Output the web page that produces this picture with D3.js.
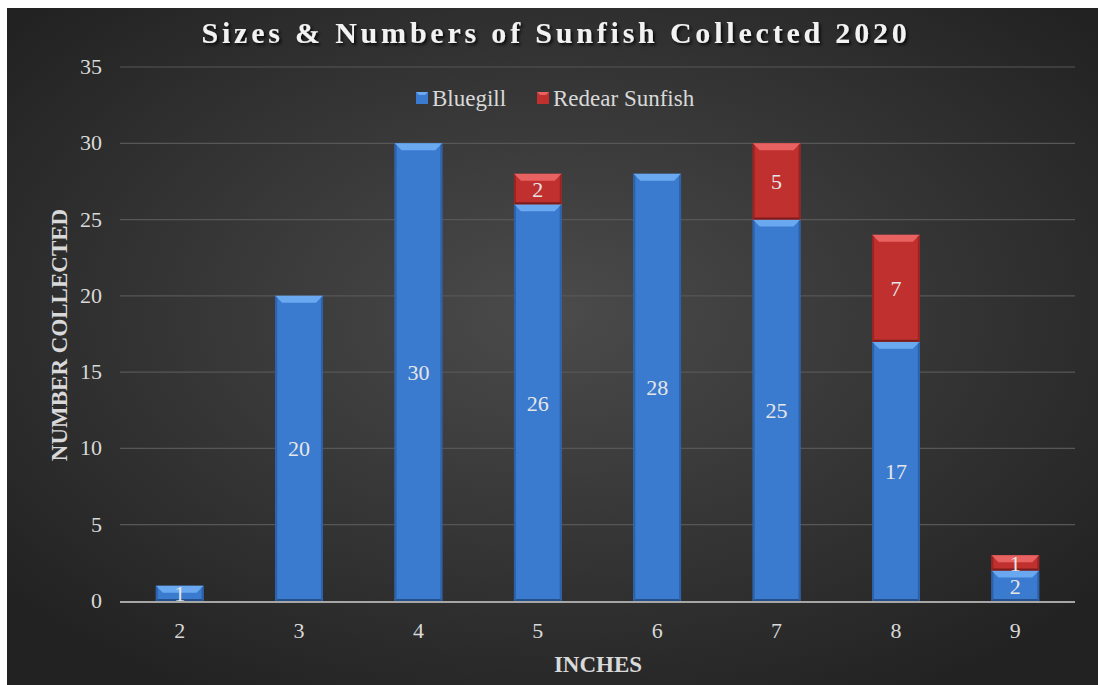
<!DOCTYPE html>
<html>
<head>
<meta charset="utf-8">
<script src="https://cdn.jsdelivr.net/npm/d3@7"></script>
<style>
  body { margin: 0; background: #fff; }
</style>
</head>
<body>
<svg id="chart" width="1098" height="685"></svg>
<script>
const sizes = ["2", "3", "4", "5", "6", "7", "8", "9"];
const bluegill = [1, 20, 30, 26, 28, 25, 17, 2];
const redear = [0, 0, 0, 2, 0, 5, 7, 1];
const seriesNames = ["Bluegill", "Redear Sunfish"];
const yTicks = [0, 5, 10, 15, 20, 25, 30, 35];

const width = 1098,
  height = 685;
const plot = { left: 120, right: 1075, top: 67, bottom: 601 };
const font = "'Liberation Serif', 'Times New Roman', 'DejaVu Serif', serif";

const svg = d3.select("#chart").attr("font-family", font);
const defs = svg.append("defs");

const bg = defs
  .append("radialGradient")
  .attr("id", "bg")
  .attr("cx", "50%")
  .attr("cy", "45%")
  .attr("r", "65%");
bg.append("stop").attr("offset", "0%").attr("stop-color", "#4b4b4b");
bg.append("stop").attr("offset", "100%").attr("stop-color", "#222");

const shadow = defs.append("filter").attr("id", "shadow");
shadow
  .append("feDropShadow")
  .attr("dx", 2)
  .attr("dy", 2)
  .attr("stdDeviation", 1.5)
  .attr("flood-color", "#000")
  .attr("flood-opacity", 0.8);

svg
  .append("rect")
  .attr("x", 7)
  .attr("y", 8)
  .attr("width", width - 7)
  .attr("height", height - 8)
  .attr("fill", "url(#bg)");

const x = d3
  .scaleBand()
  .domain(sizes)
  .range([plot.left, plot.right])
  .paddingInner(0.6)
  .paddingOuter(0.3);

const y = d3.scaleLinear().domain([0, 35]).range([plot.bottom, plot.top]);

// gridlines
svg
  .append("g")
  .selectAll("line")
  .data(yTicks.filter((d) => d > 0))
  .join("line")
  .attr("x1", plot.left)
  .attr("x2", plot.right)
  .attr("y1", (d) => y(d))
  .attr("y2", (d) => y(d))
  .attr("stroke", "#575757")
  .attr("stroke-width", 1.2);

// y tick labels
svg
  .append("g")
  .selectAll("text")
  .data(yTicks)
  .join("text")
  .attr("x", 102)
  .attr("y", (d) => y(d) + 7)
  .attr("text-anchor", "end")
  .attr("fill", "#d9d9d9")
  .style("font-size", "22px")
  .text((d) => d);

const colors = {
  Bluegill: { main: "#3a7bd0", top: "#6aa8f0", side: "#2c62aa", bottom: "#24508c" },
  "Redear Sunfish": { main: "#c0302f", top: "#e86262", side: "#9a2424", bottom: "#7d1c1c" },
};

const table = sizes.map((s, i) => ({
  size: s,
  Bluegill: bluegill[i],
  "Redear Sunfish": redear[i],
}));
const stacked = d3.stack().keys(seriesNames)(table);

const bev = 7;
stacked.forEach((layer) => {
  const c = colors[layer.key];
  const g = svg.append("g");
  layer.forEach((d) => {
    const v = d[1] - d[0];
    if (v <= 0) return;
    const x0 = x(d.data.size),
      x1 = x0 + x.bandwidth();
    const y0 = y(d[0]),
      y1 = y(d[1]);
    const b = Math.min(bev, (y0 - y1) / 2);
    const seg = g.append("g");
    seg
      .append("rect")
      .attr("x", x0)
      .attr("y", y1)
      .attr("width", x1 - x0)
      .attr("height", y0 - y1)
      .attr("fill", c.main);
    seg
      .append("polygon")
      .attr("points", [[x0, y1], [x1, y1], [x1 - b, y1 + b], [x0 + b, y1 + b]].join(" "))
      .attr("fill", c.top);
    seg
      .append("polygon")
      .attr("points", [[x0, y1], [x0 + 2, y1 + 2], [x0 + 2, y0 - 2], [x0, y0]].join(" "))
      .attr("fill", c.side);
    seg
      .append("polygon")
      .attr("points", [[x1, y1], [x1 - 2, y1 + 2], [x1 - 2, y0 - 2], [x1, y0]].join(" "))
      .attr("fill", c.side);
    seg
      .append("polygon")
      .attr("points", [[x0, y0], [x1, y0], [x1 - 2, y0 - 2], [x0 + 2, y0 - 2]].join(" "))
      .attr("fill", c.bottom);
    seg
      .append("text")
      .attr("x", (x0 + x1) / 2)
      .attr("y", (y0 + y1) / 2 + 8)
      .attr("text-anchor", "middle")
      .attr("fill", "#e6e6e6")
      .style("font-size", "22px")
      .text(v);
  });
});

// axis line
svg
  .append("line")
  .attr("x1", plot.left)
  .attr("x2", plot.right)
  .attr("y1", y(0) + 1)
  .attr("y2", y(0) + 1)
  .attr("stroke", "#a6a6a6")
  .attr("stroke-width", 2);

// x tick labels
svg
  .append("g")
  .selectAll("text")
  .data(sizes)
  .join("text")
  .attr("x", (d) => x(d) + x.bandwidth() / 2)
  .attr("y", 638)
  .attr("text-anchor", "middle")
  .attr("fill", "#d9d9d9")
  .style("font-size", "22px")
  .text((d) => d);

// title
svg
  .append("text")
  .attr("x", 556)
  .attr("y", 43)
  .attr("text-anchor", "middle")
  .attr("fill", "#f2f2f2")
  .attr("filter", "url(#shadow)")
  .style("font-size", "30px")
  .style("font-weight", "bold")
  .style("letter-spacing", "3.8px")
  .text("Sizes & Numbers of Sunfish Collected 2020");

// axis titles
svg
  .append("text")
  .attr("x", 598)
  .attr("y", 672)
  .attr("text-anchor", "middle")
  .attr("fill", "#d9d9d9")
  .style("font-size", "23px")
  .style("font-weight", "bold")
  .text("INCHES");

svg
  .append("text")
  .attr("transform", "translate(67,335) rotate(-90)")
  .attr("text-anchor", "middle")
  .attr("fill", "#d9d9d9")
  .style("font-size", "23px")
  .style("font-weight", "bold")
  .text("NUMBER COLLECTED");

// legend
const legendX = [416, 537];
const legend = svg
  .append("g")
  .selectAll("g")
  .data(seriesNames)
  .join("g")
  .attr("transform", (d, i) => `translate(${legendX[i]},92)`);
legend
  .append("rect")
  .attr("width", 12)
  .attr("height", 12)
  .attr("fill", (d) => colors[d].main);
legend
  .append("polygon")
  .attr("points", "0,0 12,0 9,3 3,3")
  .attr("fill", (d) => colors[d].top);
legend
  .append("text")
  .attr("x", 16)
  .attr("y", 14)
  .attr("fill", "#d9d9d9")
  .style("font-size", "23px")
  .text((d) => d);
</script>
</body>
</html>
